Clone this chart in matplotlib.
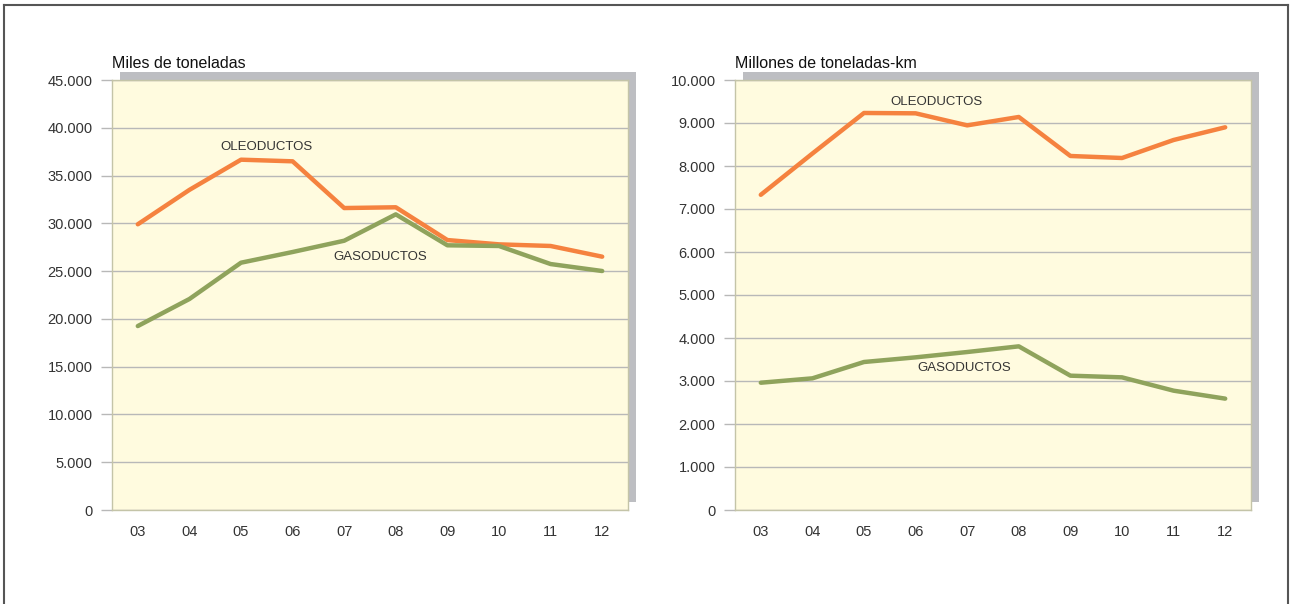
import matplotlib
matplotlib.use("Agg")
import matplotlib.pyplot as plt
from matplotlib.patches import Rectangle
from matplotlib.lines import Line2D
from matplotlib.ticker import FuncFormatter

years = ["03", "04", "05", "06", "07", "08", "09", "10", "11", "12"]

# Miles de toneladas
oleo_t = [29900, 33500, 36660, 36490, 31600, 31680, 28250, 27800, 27630, 26510]
gas_t = [19250, 22080, 25880, 27000, 28180, 30940, 27700, 27630, 25740, 25010]

# Millones de toneladas-km
oleo_tkm = [7330, 8290, 9233, 9225, 8945, 9140, 8233, 8186, 8605, 8900]
gas_tkm = [2960, 3062, 3442, 3550, 3674, 3806, 3124, 3085, 2775, 2590]

orange = "#F5823F"
green = "#8FA35C"
bg = "#FFFBDF"
grid_c = "#B8B8B8"
shadow_c = "#BDBEC2"
text_c = "#333333"

plt.rcParams["font.family"] = ["Liberation Sans Narrow", "Liberation Sans", "DejaVu Sans"]

W, H = 1290, 604
fig = plt.figure(figsize=(W / 100, H / 100), dpi=100)

# outer frame (no bottom edge)
for xs, ys in [([4 / W, 4 / W], [0, 1 - 5 / H]),
               ([4 / W, 1288 / W], [1 - 5 / H, 1 - 5 / H]),
               ([1288 / W, 1288 / W], [0, 1 - 5 / H])]:
    fig.add_artist(Line2D(xs, ys, color="#555555", lw=1.5, transform=fig.transFigure))


def thousands(v, pos):
    return f"{int(v):,}".replace(",", ".")


def panel(left_px, oleo, gas, ymax, step, title, oleo_xy, gas_xy):
    l = left_px / W
    b = (H - 510) / H
    w = 516 / W
    h = 430 / H
    # shadow behind the plot
    fig.patches.append(Rectangle((l + 8 / W, b + 8 / H), w, h, transform=fig.transFigure,
                                 facecolor=shadow_c, edgecolor="none", zorder=-1))
    ax = fig.add_axes([l, b, w, h])
    ax.set_facecolor(bg)
    x = range(len(years))
    ax.plot(x, oleo, color=orange, lw=3.2, solid_capstyle="round", zorder=3)
    ax.plot(x, gas, color=green, lw=3.2, solid_capstyle="round", zorder=3)
    ax.set_xlim(-0.5, len(years) - 0.5)
    ax.set_ylim(0, ymax)
    ax.set_yticks(range(0, ymax + 1, step))
    ax.yaxis.set_major_formatter(FuncFormatter(thousands))
    ax.set_xticks(list(x))
    ax.set_xticklabels(years)
    ax.grid(axis="y", color=grid_c, lw=1)
    ax.set_axisbelow(True)
    for s in ax.spines.values():
        s.set_color("#C4C4A8")
        s.set_linewidth(1)
    ax.tick_params(axis="y", length=8, color=grid_c, width=1, pad=6,
                   labelsize=10.5, labelcolor=text_c)
    ax.tick_params(axis="x", length=0, pad=11, labelsize=10.5, labelcolor=text_c)
    fig.text(l, 1 - 68 / H, title, fontsize=11.5, color="#111111",
             family=["Liberation Sans", "DejaVu Sans"], va="baseline", ha="left")
    ax.text(*oleo_xy, "OLEODUCTOS", fontsize=9.5, color=text_c, ha="center", va="center",
            family=["Liberation Sans", "DejaVu Sans"])
    ax.text(*gas_xy, "GASODUCTOS", fontsize=9.5, color=text_c, ha="center", va="center",
            family=["Liberation Sans", "DejaVu Sans"])
    return ax


panel(112, oleo_t, gas_t, 45000, 5000, "Miles de toneladas",
      (2.5, 38000), (4.7, 26450))
panel(735, oleo_tkm, gas_tkm, 10000, 1000, "Millones de toneladas-km",
      (3.4, 9490), (3.95, 3300))

fig.savefig("out.png", dpi=100)
